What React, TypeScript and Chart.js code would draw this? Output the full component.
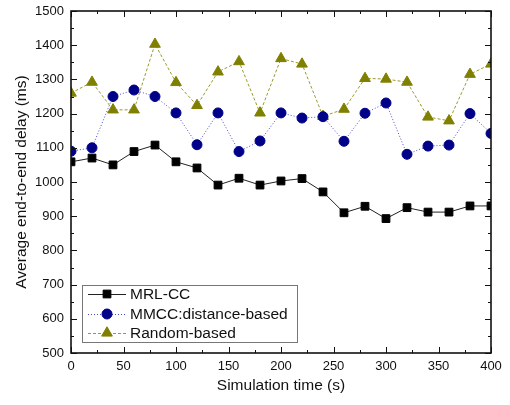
import React, { useEffect, useRef } from "react";
import { Chart, registerables } from "chart.js";
Chart.register(...registerables);

const times = [0, 20, 40, 60, 80, 100, 120, 140, 160, 180, 200, 220, 240, 260, 280, 300, 320, 340, 360, 380, 400];
const mrlCC = [1059, 1070, 1050, 1089, 1108, 1059, 1041, 991, 1011, 991, 1003, 1010, 971, 910, 929, 893, 925, 912, 912, 930, 930];
const mmccDistance = [1090, 1100, 1250, 1269, 1250, 1202, 1109, 1202, 1089, 1120, 1202, 1187, 1191, 1119, 1201, 1231, 1081, 1105, 1108, 1200, 1142];
const randomBased = [1260, 1292, 1211, 1211, 1403, 1291, 1224, 1322, 1352, 1202, 1361, 1345, 1192, 1213, 1303, 1301, 1292, 1190, 1179, 1315, 1345];
const seriesNames = ["MRL-CC", "MMCC:distance-based", "Random-based"];
const xTitle = "Simulation time (s)";
const yTitle = "Average end-to-end delay (ms)";

const FONT = "'Liberation Sans', Arial, sans-serif";

function drawMarker(ctx: CanvasRenderingContext2D, style: string, x: number, y: number, r: number) {
  ctx.beginPath();
  if (style === "rect") {
    const s = Math.SQRT1_2 * r;
    ctx.rect(x - s, y - s, 2 * s, 2 * s);
  } else if (style === "circle") {
    ctx.arc(x, y, r, 0, Math.PI * 2);
  } else {
    ctx.moveTo(x, y - r);
    ctx.lineTo(x + r * Math.sin(Math.PI / 3), y + r / 2);
    ctx.lineTo(x - r * Math.sin(Math.PI / 3), y + r / 2);
    ctx.closePath();
  }
  ctx.fill();
  ctx.stroke();
}

const framePlugin = {
  id: "frameTicks",
  afterDatasetsDraw(chart: any) {
    const { ctx, chartArea: a, scales } = chart;
    const xs = scales.x, ys = scales.y;
    ctx.save();
    ctx.strokeStyle = "#111";
    ctx.lineWidth = 1;
    for (let v = 0; v <= 400; v += 25) {
      const px = Math.round(xs.getPixelForValue(v)) + 0.5;
      const len = v % 50 === 0 ? 6 : 3;
      ctx.beginPath();
      ctx.moveTo(px, a.bottom); ctx.lineTo(px, a.bottom - len);
      ctx.moveTo(px, a.top); ctx.lineTo(px, a.top + len);
      ctx.stroke();
    }
    for (let v = 500; v <= 1500; v += 50) {
      const py = Math.round(ys.getPixelForValue(v)) + 0.5;
      const len = v % 100 === 0 ? 6 : 3;
      ctx.beginPath();
      ctx.moveTo(a.left, py); ctx.lineTo(a.left + len, py);
      ctx.moveTo(a.right, py); ctx.lineTo(a.right - len, py);
      ctx.stroke();
    }
    ctx.lineWidth = 1.6;
    ctx.strokeRect(a.left, a.top, a.right - a.left, a.bottom - a.top);

    // legend
    const lx = 82, ly = 285, lw = 215, lh = 57;
    ctx.fillStyle = "#fff";
    ctx.fillRect(lx, ly, lw, lh);
    ctx.lineWidth = 1;
    ctx.strokeStyle = "#777";
    ctx.strokeRect(lx + 0.5, ly + 0.5, lw, lh);
    const rows = [294, 314, 333];
    chart.data.datasets.forEach((ds: any, i: number) => {
      const y = rows[i];
      ctx.save();
      ctx.strokeStyle = ds.borderColor;
      ctx.lineWidth = ds.borderWidth;
      ctx.setLineDash(ds.borderDash || []);
      ctx.beginPath();
      ctx.moveTo(88, y + 0.5); ctx.lineTo(126, y + 0.5);
      ctx.stroke();
      ctx.restore();
      ctx.save();
      ctx.fillStyle = ds.pointBackgroundColor;
      ctx.strokeStyle = ds.pointBorderColor;
      ctx.lineWidth = 1;
      drawMarker(ctx, ds.pointStyle, 107, y, ds.pointRadius);
      ctx.restore();
      ctx.fillStyle = "#111";
      ctx.font = `15.5px ${FONT}`;
      ctx.textBaseline = "middle";
      ctx.fillText(ds.label, 130, y + 1);
    });
    ctx.restore();
  },
};

export default function App() {
  const ref = useRef<HTMLCanvasElement>(null);
  useEffect(() => {
    document.body.style.margin = "0";
    const chart = new Chart(ref.current!, {
      type: "line",
      data: {
        datasets: [
          {
            label: seriesNames[0],
            data: times.map((t, i) => ({ x: t, y: mrlCC[i] })),
            borderColor: "#222",
            borderWidth: 1,
            pointStyle: "rect",
            pointRadius: 5.5,
            pointBackgroundColor: "#000",
            pointBorderColor: "#000",
            pointBorderWidth: 1,
          },
          {
            label: seriesNames[1],
            data: times.map((t, i) => ({ x: t, y: mmccDistance[i] })),
            borderColor: "#4a4ad0",
            borderWidth: 1,
            borderDash: [1, 2],
            pointStyle: "circle",
            pointRadius: 5,
            pointBackgroundColor: "#000088",
            pointBorderColor: "#000088",
            pointBorderWidth: 1,
          },
          {
            label: seriesNames[2],
            data: times.map((t, i) => ({ x: t, y: randomBased[i] })),
            borderColor: "#9a9a30",
            borderWidth: 1,
            borderDash: [3, 2],
            pointStyle: "triangle",
            pointRadius: 6.2,
            pointBackgroundColor: "#808000",
            pointBorderColor: "#808000",
            pointBorderWidth: 1,
          },
        ] as any,
      },
      options: {
        animation: false,
        responsive: false,
        devicePixelRatio: 1,
        layout: { padding: { top: 11, right: 19, left: 0, bottom: 0 } },
        plugins: { legend: { display: false }, tooltip: { enabled: false } },
        scales: {
          x: {
            type: "linear",
            min: 0,
            max: 400,
            grid: { display: false, drawTicks: false },
            border: { display: false },
            ticks: { stepSize: 50, color: "#111", padding: 6, font: { family: FONT, size: 13 }, maxRotation: 0, callback: (v: any) => String(v) },
            title: { display: true, text: xTitle, color: "#111", font: { family: FONT, size: 15.5 }, padding: { top: 0, bottom: 10 } },
            afterFit: (s: any) => { s.height = 52; s.paddingLeft = 0; s.paddingRight = 0; },
          },
          y: {
            min: 500,
            max: 1500,
            grid: { display: false, drawTicks: false },
            border: { display: false },
            ticks: { stepSize: 100, color: "#111", padding: 7, font: { family: FONT, size: 13 }, callback: (v: any) => String(v) },
            title: { display: true, text: yTitle, color: "#111", font: { family: FONT, size: 15.5 }, padding: { top: 12, bottom: 0 } },
            afterFit: (s: any) => { s.width = 71; s.paddingTop = 0; s.paddingBottom = 0; },
          },
        },
      } as any,
      plugins: [framePlugin],
    });
    return () => chart.destroy();
  }, []);
  return (
    <div style={{ position: "absolute", left: 0, top: 0, width: 510, height: 405, background: "#fff" }}>
      <canvas ref={ref} width={510} height={405} />
    </div>
  );
}
